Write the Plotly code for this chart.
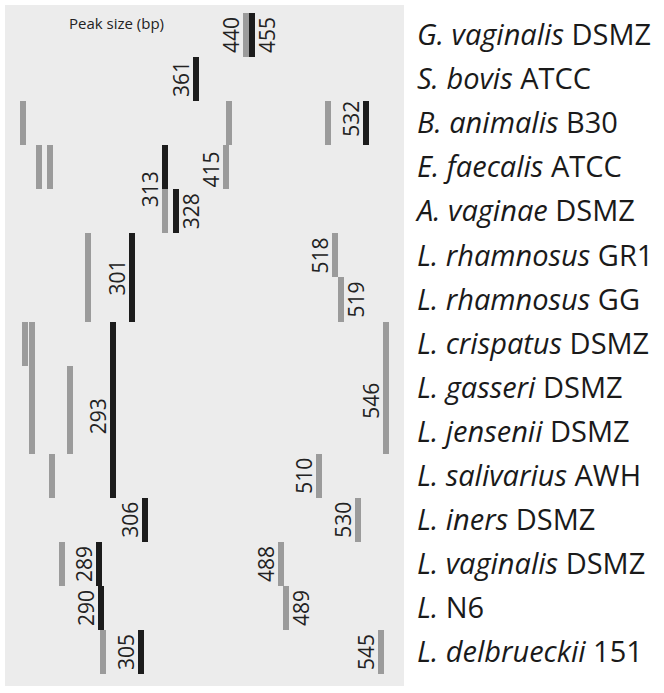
import plotly.graph_objects as go

# strains, top to bottom (row index 0..14)
genus = ["G.", "S.", "B.", "E.", "A.", "L.", "L.", "L.", "L.", "L.", "L.", "L.", "L.", "L.", "L."]
species = ["vaginalis", "bovis", "animalis", "faecalis", "vaginae", "rhamnosus", "rhamnosus",
           "crispatus", "gasseri", "jensenii", "salivarius", "iners", "vaginalis", "", "delbrueckii"]
strain = ["DSMZ", "ATCC", "B30", "ATCC", "DSMZ", "GR1", "GG", "DSMZ", "DSMZ", "DSMZ", "AWH",
          "DSMZ", "DSMZ", "N6", "151"]

# peaks: migration position (arbitrary units along the panel), first row, rows covered,
# kind (g = grey, k = black), size label (bp), label side, row of the label
peak_pos = [241, 247, 191, 18, 224, 323, 361, 34, 45, 160, 221, 160, 171, 83, 127, 330, 336,
            20, 27, 108, 381, 65, 47, 314, 140, 353, 57, 94, 276, 96, 281, 98, 136, 376]
peak_row = [0, 0, 1, 2, 2, 2, 2, 3, 3, 3, 3, 4, 4, 5, 5, 5, 6,
            7, 7, 7, 7, 8, 10, 10, 11, 11, 12, 12, 12, 13, 13, 14, 14, 14]
peak_span = [1, 1, 1, 1, 1, 1, 1, 1, 1, 1, 1, 1, 1, 2, 2, 1, 1,
             1, 3, 4, 3, 2, 1, 1, 1, 1, 1, 1, 1, 1, 1, 1, 1, 1]
peak_kind = ["g", "k", "k", "g", "g", "g", "k", "g", "g", "k", "g", "g", "k", "g", "k", "g", "g",
             "g", "g", "k", "g", "g", "g", "g", "k", "g", "g", "k", "g", "k", "g", "g", "k", "g"]
peak_bp = ["440", "455", "361", "", "", "", "532", "", "", "313", "415", "", "328", "", "301", "518", "519",
           "", "", "293", "546", "", "", "510", "306", "530", "", "289", "488", "290", "489", "", "305", "545"]
label_side = ["l", "r", "l", "", "", "", "l", "", "", "l", "l", "", "r", "", "l", "l", "r",
              "", "", "l", "l", "", "", "l", "l", "l", "", "l", "l", "l", "r", "", "l", "l"]
label_row = [0, 0, 1, None, None, None, 1.9, None, None, 3.5, 3.05, None, 4, None, 5.5, 5, 6,
             None, None, 8.65, 8.3, None, None, 10, 11, 11, None, 12, 12, 13, 13, None, 14, 14]

GREY = "#9b9b9b"
BLACK = "#1c1c1c"

fig = go.Figure()
for kind, color in [("g", GREY), ("k", BLACK)]:
    idx = [i for i, k in enumerate(peak_kind) if k == kind]
    fig.add_trace(go.Bar(
        x=[peak_pos[i] for i in idx],
        y=[peak_span[i] for i in idx],
        base=[peak_row[i] - 0.5 for i in idx],
        width=6,
        marker=dict(color=color, line=dict(width=0)),
        showlegend=False,
        hoverinfo="skip",
    ))

for i, bp in enumerate(peak_bp):
    if not bp:
        continue
    fig.add_annotation(
        x=peak_pos[i], y=label_row[i], text=bp, showarrow=False,
        textangle=-90, xshift=-15 if label_side[i] == "l" else 15,
        font=dict(family="Open Sans", size=21, color="#222222"),
    )

fig.add_annotation(
    x=111, y=-0.27, text="Peak size (bp)", showarrow=False,
    font=dict(family="Open Sans", size=15, color="#222222"),
)

ticktext = []
for g, s, st in zip(genus, species, strain):
    name = f"<i>{g}</i> " if not s else f"<i>{g} {s}</i> "
    ticktext.append(name + st)

fig.update_layout(
    width=664, height=693,
    margin=dict(l=5, r=260, t=5, b=7),
    paper_bgcolor="white",
    plot_bgcolor="#ececec",
    barmode="overlay",
    bargap=0,
    xaxis=dict(range=[0, 399], showgrid=False, zeroline=False, showticklabels=False, ticks=""),
    yaxis=dict(range=[14.77, -0.681], side="right", tickmode="array",
               tickvals=list(range(len(strain))), ticktext=ticktext,
               showgrid=False, zeroline=False, ticks="", ticklabelstandoff=12,
               tickfont=dict(family="Open Sans", size=29, color="#1a1a1a")),
)

fig.write_html("out.html", config={"displayModeBar": False},
               post_script="document.body.style.margin='0';")
